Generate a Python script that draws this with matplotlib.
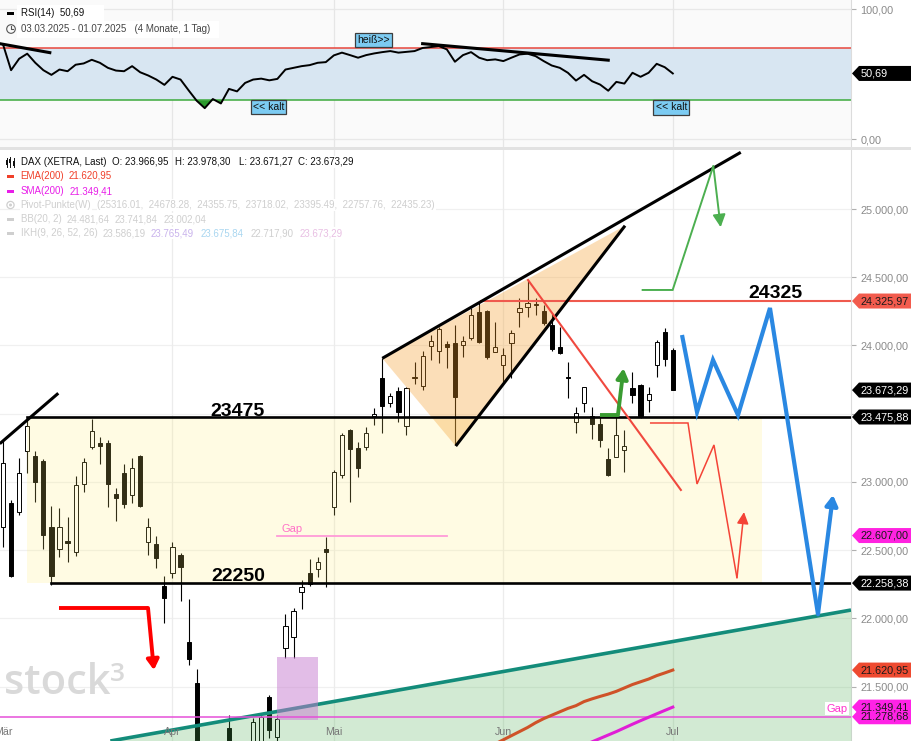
import numpy as np
import matplotlib
matplotlib.use("Agg")
import matplotlib.pyplot as plt
from matplotlib.patches import Rectangle, Polygon, Circle
from matplotlib.lines import Line2D
from matplotlib.transforms import IdentityTransform, blended_transform_factory

plt.rcParams['font.family'] = ['Liberation Sans', 'DejaVu Sans']

# ---------------- data ----------------
month_names = ['Mär', 'Apr', 'Mai', 'Jun', 'Jul']
days_mar = [3, 4, 5, 6, 7, 10, 11, 12, 13, 14, 17, 18, 19, 20, 21, 24, 25, 26, 27, 28, 31]
days_apr = [1, 2, 3, 4, 7, 8, 9, 10, 11, 14, 15, 16, 17, 22, 23, 24, 25, 28, 29, 30]
days_mai = [2, 5, 6, 7, 8, 9, 12, 13, 14, 15, 16, 19, 20, 21, 22, 23, 26, 27, 28, 29, 30]
days_jun = [2, 3, 4, 5, 6, 9, 10, 11, 12, 13, 16, 17, 18, 19, 20, 23, 24, 25, 26, 27, 30]
days_jul = [1]

open_ = np.array([22672, 22843, 22782, 23229, 23190, 23155, 22672, 22510, 22570, 22484,
                  22985, 23254, 23283, 23287, 22911, 23067, 22904, 23192, 22557, 22545,
                  22237, 22330, 22464, 21829, 21528, 19500, 20380, 19900, 21196, 20700,
                  20900, 21050, 21100, 21421, 21132, 21780, 21865, 22195, 22330, 22359,
                  22506, 22818, 23051, 23381, 23246, 23258, 23482, 23759, 23581, 23669,
                  23410, 23760, 23703, 23996, 23962, 24011, 24021, 24004, 24053, 24248,
                  24253, 23955, 23857, 24021, 24248, 24280, 24300, 24255, 24150, 23991,
                  23765, 23441, 23581, 23483, 23422, 23166, 23185, 23234, 23686, 23710,
                  23600, 23857, 24101, 23966.95])
high = np.array([23307, 22870, 23173, 23459, 23227, 23165, 22823, 22807, 22745, 23043,
                 23173, 23459, 23331, 23307, 22953, 23131, 23173, 23200, 22733, 22606,
                 22312, 22562, 22480, 22139, 21626, 20480, 20820, 20150, 21291, 20850,
                 21050, 21267, 21300, 21440, 21290, 22032, 22073, 22281, 22435, 22447,
                 22594, 23090, 23361, 23390, 23295, 23405, 23540, 23906, 23654, 23698,
                 23698, 23881, 23960, 24077, 24138, 24035, 24150, 24070, 24273, 24321,
                 24260, 24174, 23979, 24114, 24346, 24480, 24346, 24297, 24236, 24138,
                 23881, 23551, 23698, 23551, 23490, 23246, 23478, 23381, 23808, 23715,
                 23698, 24040, 24126, 23978.30])
low = np.array([22525, 22300, 22760, 23063, 22850, 22506, 22244, 22452, 22415, 22459,
                22928, 23239, 23131, 22814, 22716, 22807, 22843, 22815, 22464, 22367,
                21968, 22293, 22129, 21658, 20400, 18489, 20150, 19250, 20450, 20200,
                20800, 20950, 21000, 21120, 21050, 21707, 21711, 22066, 22240, 22305,
                22232, 22757, 23030, 22855, 23038, 23234, 23417, 23356, 23547, 23441,
                23344, 23720, 23674, 23894, 23870, 23833, 23271, 23918, 24040, 24020,
                23900, 23950, 23735, 23760, 24138, 24211, 24224, 24150, 23960, 23940,
                23613, 23356, 23515, 23312, 23258, 23040, 23180, 23075, 23576, 23470,
                23515, 23771, 23850, 23671.27])
close = np.array([23141, 22312, 23067, 23410, 22997, 22609, 22312, 22667, 22555, 22977,
                  23148, 23373, 23263, 22985, 22880, 22836, 23100, 22823, 22667, 22444,
                  22147, 22525, 22378, 21700, 20642, 19790, 20280, 19671, 20563, 20374,
                  20954, 21242, 21279, 21181, 21260, 21944, 22056, 22232, 22252, 22415,
                  22486, 23075, 23344, 23239, 23100, 23356, 23495, 23557, 23630, 23515,
                  23691, 23770, 23925, 24033, 24119, 23987, 23620, 24035, 24224, 24028,
                  23918, 23991, 23930, 24089, 24273, 24309, 24304, 24167, 23972, 23943,
                  23760, 23507, 23694, 23425, 23307, 23051, 23344, 23263, 23637, 23483,
                  23642, 24028, 23899, 23673.29])

rsi = np.array([73.1, 53.2, 62.0, 65.9, 58.9, 53.2, 49.6, 53.7, 52.4, 57.4,
                58.4, 61.2, 58.9, 55.0, 52.9, 52.4, 56.3, 51.6, 49.1, 46.0,
                41.9, 48.1, 46.0, 37.7, 29.7, 24.0, 31.0, 27.6, 38.8, 36.9,
                43.4, 46.0, 46.7, 45.4, 46.5, 53.7, 55.0, 56.3, 57.1, 58.9,
                59.4, 64.6, 66.7, 64.8, 62.8, 64.8, 66.1, 67.1, 67.9, 66.7,
                67.3, 67.9, 70.3, 71.0, 71.8, 69.2, 59.7, 64.8, 67.1, 62.8,
                60.9, 61.5, 60.2, 62.8, 65.3, 65.9, 64.0, 60.2, 56.8, 55.0,
                51.2, 45.2, 49.6, 44.7, 42.1, 37.4, 44.2, 42.9, 51.2, 48.1,
                51.2, 58.1, 55.5, 50.69])

ema_start = 60
ema200 = [21050, 21080, 21110, 21140, 21170, 21200, 21235, 21265, 21290, 21315, 21340, 21360,
          21390, 21410, 21428, 21445, 21465, 21490, 21515, 21535, 21555, 21580, 21600, 21620.95]
sma_start = 73
sma200 = [21095, 21120, 21145, 21170, 21197, 21224, 21250, 21275, 21300, 21325, 21349.41]

level_top = 23475.88
level_bottom = 22258.38
level_res = 24325.97
gap_level = 22607.00
gap2_level = 21278.68

# drawings (trading-day index, price)
zone_x = (3, 94.05)
res_x0 = 59.2
trend_small = [(-0.4, 23280), (6.85, 23650)]
wedge_top = [(47, 23906), (91.42, 25416)]
wedge_bottom = [(56.1, 23263), (77.08, 24878)]
wedge_fill = [(47, 23906), (56.1, 23263), (77.08, 24878)]
red_diag = [(65.06, 24480), (84.0, 22941)]
green_thin = [(79.14, 24407), (82.98, 24407), (88.02, 25316), (88.93, 24867)]
green_thick = [(73.98, 23490), (76.2, 23490), (76.9, 23833)]
red_thin = [(80.17, 23432), (84.88, 23432), (86.0, 22985), (88.1, 23271), (90.95, 22296), (91.82, 22779)]
blue_path = [(84.14, 24077), (86.0, 23512), (87.98, 23894), (91.08, 23490), (95.04, 24275),
             (100.99, 22030), (102.85, 22904)]
red_thick = [(6.94, 22076), (17.97, 22076), (18.7, 21621)]
teal_line = [(13.3, 21101), (105.08, 22061)]
gap_box = (33.95, 39.03, 21255, 21716)
gap_line_x = (33.95, 55.0)

rsi_trend1 = [(-0.4, 73.6), (5.8, 66.7)]
rsi_trend2 = [(52.0, 73.6), (75.0, 60.9)]
rsi_labels = [(45.9, 76.4, 'heiß>>'), (32.9, 25.0, '<< kalt'), (82.8, 24.5, '<< kalt')]

price_tags = [(level_res, '#f25b4d', '#1a1a1a'), (23673.29, 'black', 'white'),
              (level_top, 'black', 'white'), (gap_level, '#ff22e0', '#1a1a1a'),
              (level_bottom, 'black', 'white'), (21620.95, '#ee4a30', '#1a1a1a'),
              (21349.41, '#ff22e6', '#1a1a1a'), (gap2_level, '#ff22e6', '#1a1a1a')]


def de(v, nd=2):
    s = f"{v:,.{nd}f}"
    return s.replace(',', 'X').replace('.', ',').replace('X', '.')


# ---------------- layout ----------------
W, H = 912, 741
PR = 851
fig = plt.figure(figsize=(W / 100, H / 100), dpi=100)
fig.patch.set_facecolor('white')
ax = fig.add_axes([0, 0, PR / W, 591 / H])
rax = fig.add_axes([0, 594 / H, PR / W, 147 / H])

x = np.arange(len(close))
xlim = (-3 / 8.07, (PR - 3) / 8.07)
ylim = (21101, 25433)
month_idx = [0, len(days_mar), len(days_mar) + len(days_apr),
             len(days_mar) + len(days_apr) + len(days_mai),
             len(days_mar) + len(days_apr) + len(days_mai) + len(days_jun)]

# ---------------- main panel ----------------
ax.set_xlim(*xlim)
ax.set_ylim(*ylim)
ax.set_facecolor('white')
for s in ['top', 'left', 'bottom']:
    ax.spines[s].set_visible(False)
ax.spines['right'].set_color('#dcdcdc')
ax.set_xticks([])
yt = np.arange(21500, 25001, 500)
ax.yaxis.tick_right()
ax.set_yticks(yt)
ax.set_yticklabels([de(v) for v in yt])
ax.tick_params(axis='y', length=3.6, width=0.8, color='#b0b0b0', labelcolor='#8a8a8a',
               labelsize=7.8, pad=3)
for v in yt:
    ax.axhline(v, color='#f0f0f0', lw=0.9, zorder=0.5)
for m in month_idx[1:]:
    ax.axvline(m, color='#ececec', lw=0.9, zorder=0.5)

ax.text(4 / PR, 47 / 591, 'stock', transform=ax.transAxes, fontsize=30, color='#d9d9d9',
        family='Open Sans', fontweight='semibold', zorder=1)
ax.text(110 / PR, 60 / 591, '3', transform=ax.transAxes, fontsize=19, color='#d9d9d9',
        family='Open Sans', fontweight='semibold', zorder=1)

# candles
up = close >= open_
ax.vlines(x, low, high, color='black', lw=0.8, zorder=2)
ax.bar(x, np.maximum(np.abs(close - open_), 6), bottom=np.minimum(open_, close), width=0.52,
       color=np.where(up, 'white', 'black'), edgecolor='black', linewidth=0.7, zorder=2.1)

# zones
ax.add_patch(Rectangle((zone_x[0], level_bottom), zone_x[1] - zone_x[0], level_top - level_bottom,
                       facecolor='#ffeb73', alpha=0.2, lw=0, zorder=3))
ax.add_patch(Polygon(wedge_fill, closed=True, facecolor='#f59d2a', alpha=0.33, lw=0, zorder=3))
tx, ty = zip(*teal_line)
ax.fill_between(tx, ty, ylim[0] - 200, color='#4caf50', alpha=0.25, lw=0, zorder=3)
ax.plot(tx, ty, color='#138c7a', lw=2.6, zorder=3.2, solid_capstyle='butt')
ax.add_patch(Rectangle((gap_box[0], gap_box[2]), gap_box[1] - gap_box[0], gap_box[3] - gap_box[2],
                       facecolor='#c77dd0', alpha=0.5, lw=0, zorder=3.5))
ax.axhline(gap2_level, color='#e64fd8', lw=1.1, zorder=3.6)
ax.plot(np.arange(ema_start, ema_start + len(ema200)), ema200, color='#cf5228', lw=2.2, zorder=3.7)
ax.plot(np.arange(sma_start, sma_start + len(sma200)), sma200, color='#e01ed6', lw=2.2, zorder=3.7)
ax.plot(gap_line_x, [gap_level, gap_level], color='#ff9ad8', lw=1.3, zorder=4)
ax.text(34.45, 22633, 'Gap', color='#ff70c8', fontsize=8, zorder=7)
ax.text(104.7, 21337, 'Gap', color='#ff33cc', fontsize=8, ha='right', va='center', zorder=7,
        bbox=dict(facecolor='white', edgecolor='none', pad=1))

# levels and trend lines
ax.plot([zone_x[0], xlim[1]], [level_top, level_top], color='black', lw=1.9, zorder=5)
ax.plot([6, xlim[1]], [level_bottom, level_bottom], color='black', lw=1.9, zorder=5)
ax.plot([res_x0, xlim[1]], [level_res, level_res], color='#ef5a4e', lw=1.5, zorder=5)
for seg in [trend_small, wedge_top, wedge_bottom]:
    sx, sy = zip(*seg)
    ax.plot(sx, sy, color='black', lw=2.2, zorder=5, solid_capstyle='butt')
sx, sy = zip(*red_diag)
ax.plot(sx, sy, color='#f0493f', lw=1.5, zorder=5)


def arrow_path(pts, color, lw, hl, hw):
    px, py = zip(*pts)
    ax.plot(px[:-1], py[:-1], color=color, lw=lw, solid_joinstyle='miter',
            solid_capstyle='butt', zorder=6)
    ax.annotate('', xy=pts[-1], xytext=pts[-2], zorder=6,
                arrowprops=dict(arrowstyle=f'-|>,head_length={hl},head_width={hw}',
                                color=color, lw=lw, shrinkA=0, shrinkB=0))


arrow_path(green_thin, '#4caf50', 1.4, 0.75, 0.38)
arrow_path(green_thick, '#3a9c32', 2.8, 0.6, 0.34)
arrow_path(red_thin, '#f44336', 1.1, 0.7, 0.35)
arrow_path(blue_path, '#2a88e2', 3.0, 0.6, 0.36)
arrow_path(red_thick, '#ff0000', 2.8, 0.6, 0.36)

big = dict(fontsize=14, fontweight='bold', ha='center', va='baseline', zorder=7, color='black')
ax.text(29.0, 23483, '23475', **big)
ax.text(29.2, 22276, '22250', **big)
ax.text(95.7, 24346, '24325', **big)

trans = blended_transform_factory(ax.transData, ax.transAxes)
for m, name in zip(month_idx, month_names):
    ax.text(m, 9 / 591, name, transform=trans, ha='center', va='center', fontsize=7.7,
            color='#777777', zorder=7)

# ---------------- RSI panel ----------------
rax.set_xlim(*xlim)
rax.set_ylim(-5.9, 107.2)
rax.set_facecolor('#fafafa')
for s in ['top', 'left', 'bottom']:
    rax.spines[s].set_visible(False)
rax.spines['right'].set_color('#dcdcdc')
rax.set_xticks([])
rax.yaxis.tick_right()
rax.set_yticks([0, 100])
rax.set_yticklabels([de(0), de(100)])
rax.tick_params(axis='y', length=3.6, width=0.8, color='#b0b0b0', labelcolor='#8a8a8a',
                labelsize=7.8, pad=3)
for v in [0, 50, 100]:
    rax.axhline(v, color='#e8e8e8', lw=0.9, zorder=0.4)
for m in month_idx[1:]:
    rax.axvline(m, color='#e6e6e6', lw=0.9, zorder=0.4)
rax.axhspan(30, 70, color='#d8e6f2', zorder=0.5, lw=0)
rax.axhline(70, color='#e8463c', lw=1.1, zorder=1)
rax.axhline(30, color='#3caa3c', lw=1.1, zorder=1)
rax.fill_between(x, rsi, 30, where=rsi < 30, interpolate=True, color='#2c9a2c', lw=0, zorder=1.5)
rax.plot(x, rsi, color='black', lw=1.4, zorder=2)
for seg in [rsi_trend1, rsi_trend2]:
    sx, sy = zip(*seg)
    rax.plot(sx, sy, color='black', lw=2.2, zorder=3)
for lx, ly, lt in rsi_labels:
    rax.text(lx, ly, lt, ha='center', va='center', fontsize=7.5, color='#111', zorder=4,
             bbox=dict(boxstyle='square,pad=0.22', facecolor='#7ccbf2', edgecolor='#3d3d3d', lw=0.9))

# ---------------- price tags ----------------
tax = fig.add_axes([PR / W, 0, (W - PR) / W, 591 / H])
tax.set_xlim(0, W - PR)
tax.set_ylim(*ylim)
tax.axis('off')
hh = 7.5 * (ylim[1] - ylim[0]) / 591
for v, fc, tc in price_tags:
    tax.add_patch(Polygon([(1, v), (8, v + hh), (W - PR, v + hh), (W - PR, v - hh), (8, v - hh)],
                          closed=True, facecolor=fc, edgecolor='none', clip_on=False))
    tax.text(10, v, de(v), color=tc, fontsize=7.8, va='center', ha='left', clip_on=False)

rtax = fig.add_axes([PR / W, 594 / H, (W - PR) / W, 147 / H])
rtax.set_xlim(0, W - PR)
rtax.set_ylim(-5.9, 107.2)
rtax.axis('off')
rh = 7.5 * 113.1 / 147
rtax.add_patch(Polygon([(1, rsi[-1]), (8, rsi[-1] + rh), (W - PR, rsi[-1] + rh),
                        (W - PR, rsi[-1] - rh), (8, rsi[-1] - rh)], closed=True,
                       facecolor='black', edgecolor='none'))
rtax.text(10, rsi[-1], de(rsi[-1]), color='white', fontsize=7.8, va='center', ha='left')

# panel separator
fig.add_artist(Rectangle((0, H - 150), W, 3.5, transform=IdentityTransform(),
                         facecolor='#e2e2e2', edgecolor='none'))

# ---------------- legends ----------------
idt = IdentityTransform()


def ftext(px, py, s, color, **kw):
    fig.text(px, H - py, s, transform=idt, color=color, fontsize=7, va='center', ha='left', **kw)


wb = dict(facecolor='white', edgecolor='none', pad=2.5)
ftext(20.7, 13, 'RSI(14)  50,69      ', '#111', bbox=wb)
ftext(20.7, 29, '03.03.2025 - 01.07.2025   (4 Monate, 1 Tag)  ', '#444', bbox=wb)
fig.add_artist(Rectangle((7, H - 15), 7, 3, transform=idt, facecolor='black'))
fig.add_artist(Circle((11, H - 29), 4.3, transform=idt, fill=False, edgecolor='#555', lw=0.8))
fig.add_artist(Line2D([11, 11, 13], [H - 26, H - 29, H - 29], transform=idt, color='#555', lw=0.8))

gray = '#cfcfcf'
lb = dict(facecolor='white', edgecolor='none', pad=0.5)
ftext(20.7, 162, 'DAX (XETRA, Last)', '#111', bbox=lb)
ftext(111.7, 162, 'O: 23.966,95', '#111', bbox=lb)
ftext(175, 162, 'H: 23.978,30', '#111', bbox=lb)
ftext(239, 162, 'L: 23.671,27', '#111', bbox=lb)
ftext(297.7, 162, 'C: 23.673,29', '#111', bbox=lb)
ftext(20.7, 176, 'EMA(200)', '#f0402a', bbox=lb)
ftext(69, 176, '21.620,95', '#f0402a', bbox=lb)
ftext(20.7, 191, 'SMA(200)', '#e81ee8', bbox=lb)
ftext(69.5, 191, '21.349,41', '#e81ee8', bbox=lb)
ftext(20.7, 205, 'Pivot-Punkte(W)', gray, bbox=lb)
ftext(97.3, 205, '(25316.01,  24678.28,  24355.75,  23718.02,  23395.49,  22757.76,  22435.23)',
      gray, bbox=lb)
ftext(20.7, 219, 'BB(20, 2)', gray, bbox=lb)
ftext(66.7, 219, '24.481,64', gray, bbox=lb)
ftext(115, 219, '23.741,84', gray, bbox=lb)
ftext(163.3, 219, '23.002,04', gray, bbox=lb)
ftext(20.7, 233, 'IKH(9, 26, 52, 26)', gray, bbox=lb)
ftext(102.7, 233, '23.586,19', gray, bbox=lb)
ftext(151, 233, '23.765,49', '#c9b3ec', bbox=lb)
ftext(201, 233, '23.675,84', '#a9d6f0', bbox=lb)
ftext(250.7, 233, '22.717,90', gray, bbox=lb)
ftext(300, 233, '23.673,29', '#e8bfe3', bbox=lb)

for py, col in [(176, '#f0402a'), (191, '#e81ee8'), (219, gray), (233, gray)]:
    fig.add_artist(Rectangle((7, H - py - 1.5), 7, 3, transform=idt, facecolor=col))
fig.add_artist(Circle((10.5, H - 205), 3.6, transform=idt, fill=False, edgecolor=gray, lw=0.9))
fig.add_artist(Circle((10.5, H - 205), 1.5, transform=idt, facecolor=gray, edgecolor='none'))
for cx, y0, y1, b0, b1 in [(6.5, 158, 167, 160, 165), (10, 157, 167, 159, 163), (13.5, 158, 167, 161, 166)]:
    fig.add_artist(Line2D([cx, cx], [H - y0, H - y1], transform=idt, color='#111', lw=0.7))
    fig.add_artist(Rectangle((cx - 1, H - b1), 2, b1 - b0, transform=idt, facecolor='#111'))

fig.savefig('out.png', dpi=100)
